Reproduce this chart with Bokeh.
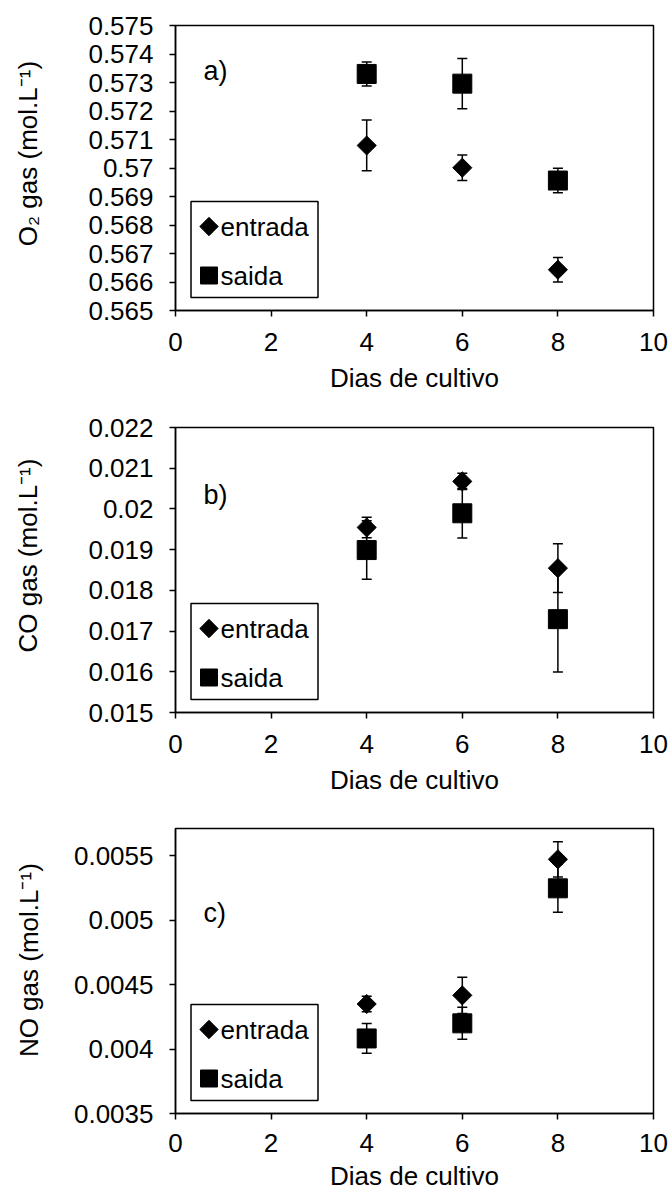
import numpy as np
from bokeh.plotting import figure
from bokeh.models import ColumnDataSource, Whisker, TeeHead, FixedTicker, Range1d, Label
from bokeh.layouts import column
from bokeh.embed import file_html
from bokeh.resources import INLINE
from bokeh.core.properties import value

# ---------------- data ----------------
days = [4, 6, 8]
series_names = ["entrada", "saida"]

o2_entrada = [0.57079, 0.57001, 0.56643]
o2_entrada_err = [0.00089, 0.00045, 0.00043]
o2_saida = [0.57330, 0.57296, 0.56956]
o2_saida_err = [0.00042, 0.00088, 0.00043]

co_entrada = [0.019545, 0.020676, 0.018546]
co_entrada_err = [0.00025, 0.00020, 0.00060]
co_saida = [0.018990, 0.019893, 0.017293]
co_saida_err = [0.00072, 0.00061, 0.00130]

no_entrada = [0.004349, 0.004416, 0.005471]
no_entrada_err = [0.00006, 0.00014, 0.000137]
no_saida = [0.004082, 0.004199, 0.005246]
no_saida_err = [0.000115, 0.000124, 0.000186]

x_ticks = [0, 2, 4, 6, 8, 10]
x_tick_labels = ["0", "2", "4", "6", "8", "10"]

o2_ticks = [0.565, 0.566, 0.567, 0.568, 0.569, 0.57, 0.571, 0.572, 0.573, 0.574, 0.575]
o2_tick_labels = ["0.565", "0.566", "0.567", "0.568", "0.569", "0.57", "0.571", "0.572", "0.573", "0.574", "0.575"]
co_ticks = [0.015, 0.016, 0.017, 0.018, 0.019, 0.02, 0.021, 0.022]
co_tick_labels = ["0.015", "0.016", "0.017", "0.018", "0.019", "0.02", "0.021", "0.022"]
no_ticks = [0.0035, 0.004, 0.0045, 0.005, 0.0055]
no_tick_labels = ["0.0035", "0.004", "0.0045", "0.005", "0.0055"]

x_title = "Dias de cultivo"
o2_title = "O\u2082 gas (mol.L\u207b\u00b9)"
co_title = "CO gas (mol.L\u207b\u00b9)"
no_title = "NO gas (mol.L\u207b\u00b9)"

# ---------------- styling ----------------
FONT = "Liberation Sans"
FS = "26px"
FRAME_L, FRAME_W, FRAME_H = 175, 478, 285
XMIN, XMAX = 0, 10
NBSP = "\u00a0"


def make_panel(ytitle, ymin, ymax, yticks, ylabels, ent, ent_err, sai, sai_err,
               letter, letter_y, top, bottom, xtick_standoff, xtitle_standoff,
               ytitle_standoff, ytitle_pad):
    p = figure(frame_width=FRAME_W, frame_height=FRAME_H,
               min_border_left=FRAME_L, min_border_right=17,
               min_border_top=top, min_border_bottom=bottom,
               x_range=Range1d(XMIN, XMAX), y_range=Range1d(ymin, ymax),
               output_backend="svg", toolbar_location=None,
               background_fill_color="white", border_fill_color="white")
    p.xgrid.visible = False
    p.ygrid.visible = False
    p.outline_line_color = "black"
    p.outline_line_width = 1.5
    p.outline_line_alpha = 1.0

    def dx(off):
        return XMIN + off / FRAME_W * (XMAX - XMIN)

    def dy(off):
        return ymin + off / FRAME_H * (ymax - ymin)

    p.xaxis.ticker = FixedTicker(ticks=x_ticks)
    p.xaxis.major_label_overrides = dict(zip(x_ticks, x_tick_labels))
    p.yaxis.ticker = FixedTicker(ticks=yticks)
    p.yaxis.major_label_overrides = dict(zip(yticks, ylabels))
    for ax in (p.xaxis[0], p.yaxis[0]):
        ax.major_tick_in = 0
        ax.major_tick_out = 6
        ax.minor_tick_line_color = None
        ax.axis_line_width = 1.5
        ax.axis_line_color = "black"
        ax.major_tick_line_width = 1.5
        ax.major_tick_line_color = "black"
        ax.major_label_text_font = FONT
        ax.major_label_text_font_size = FS
        ax.major_label_text_color = "black"
        ax.axis_label_text_font = FONT
        ax.axis_label_text_font_size = FS
        ax.axis_label_text_font_style = "normal"
        ax.axis_label_text_color = "black"
    p.xaxis.axis_label = x_title
    p.xaxis.major_label_standoff = xtick_standoff
    p.xaxis.axis_label_standoff = xtitle_standoff
    p.yaxis.major_label_standoff = 16
    # leading no-break spaces nudge the (centred) title slightly upwards, as in the original
    p.yaxis.axis_label = NBSP * ytitle_pad + ytitle
    p.yaxis.axis_label_standoff = ytitle_standoff

    # error bars
    for vals, errs in ((ent, ent_err), (sai, sai_err)):
        src = ColumnDataSource(dict(
            x=days,
            lo=[v - e for v, e in zip(vals, errs)],
            hi=[v + e for v, e in zip(vals, errs)]))
        w = Whisker(base="x", lower="lo", upper="hi", source=src, dimension="height",
                    line_color="black", line_width=1.5,
                    upper_head=TeeHead(size=10, line_color="black", line_width=1.5),
                    lower_head=TeeHead(size=10, line_color="black", line_width=1.5))
        p.add_layout(w)

    # markers
    p.scatter(days, ent, marker="square", angle=np.pi / 4, size=13.5,
              fill_color="black", line_color="black")
    p.scatter(days, sai, marker="square", size=19,
              fill_color="black", line_color="black")

    # panel letter
    p.add_layout(Label(x=0.586, y=letter_y, text=letter, text_font=FONT,
                       text_font_size="27px", text_baseline="alphabetic",
                       text_color="black"))

    # legend box
    p.quad(left=[dx(15.5)], right=[dx(142.5)], bottom=[dy(13)], top=[dy(109)],
           fill_color="white", line_color="black", line_width=1.5)
    rows = [dy(84), dy(35)]
    p.scatter([dx(33.5)], [rows[0]], marker="square", angle=np.pi / 4, size=13,
              fill_color="black", line_color="black")
    p.scatter([dx(33.5)], [rows[1]], marker="square", size=17,
              fill_color="black", line_color="black")
    p.text(x=[dx(45), dx(45)], y=rows, text=series_names,
           text_font=value(FONT), text_font_size=value(FS),
           text_baseline="middle", text_align="left", text_color="black")
    return p


pa = make_panel(o2_title, 0.565, 0.575, o2_ticks, o2_tick_labels,
                o2_entrada, o2_entrada_err, o2_saida, o2_saida_err,
                "a)", 0.57342, 25, 90, 16, 9, 42, 4)
pb = make_panel(co_title, 0.015, 0.022, co_ticks, co_tick_labels,
                co_entrada, co_entrada_err, co_saida, co_saida_err,
                "b)", 0.020346, 27, 83, 16, 9, 42, 4)
pc = make_panel(no_title, 0.0035, 0.00571, no_ticks, no_tick_labels,
                no_entrada, no_entrada_err, no_saida, no_saida_err,
                "c)", 0.005054, 31, 84, 14, 6, 27, 3)

layout = column(pa, pb, pc)
open("out.html", "w").write(file_html(layout, INLINE))
